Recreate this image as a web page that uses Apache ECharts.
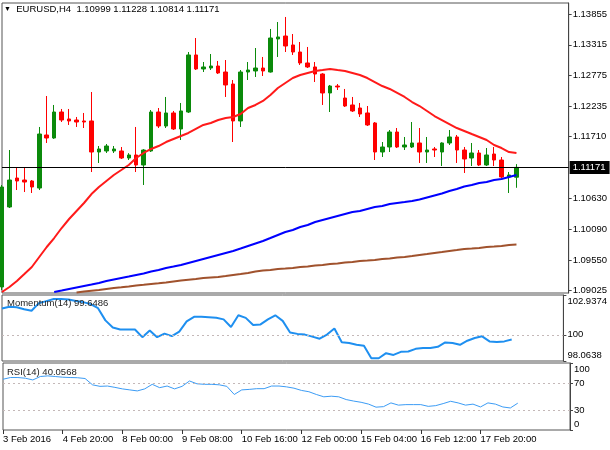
<!DOCTYPE html>
<html>

<head>
    <meta charset="utf-8" />
    <title>EURUSD H4</title>
    <script src="https://cdn.jsdelivr.net/npm/echarts@6.0.0/dist/echarts.min.js"></script>
</head>

<body style="margin: 0; background: #fff">
    <div id="main" style="width: 610px; height: 450px"></div>
    <script type="text/javascript">
        // H4 bars, 3 Feb 12:00 .. 18 Feb 16:00 (broker has a Sunday 20:00 bar)
        var bars = [
            "3 Feb 12:00", "3 Feb 16:00", "3 Feb 20:00", "4 Feb 00:00", "4 Feb 04:00", "4 Feb 08:00",
            "4 Feb 12:00", "4 Feb 16:00", "4 Feb 20:00", "5 Feb 00:00", "5 Feb 04:00", "5 Feb 08:00",
            "5 Feb 12:00", "5 Feb 16:00", "5 Feb 20:00", "7 Feb 20:00", "8 Feb 00:00", "8 Feb 04:00",
            "8 Feb 08:00", "8 Feb 12:00", "8 Feb 16:00", "8 Feb 20:00", "9 Feb 00:00", "9 Feb 04:00",
            "9 Feb 08:00", "9 Feb 12:00", "9 Feb 16:00", "9 Feb 20:00", "10 Feb 00:00", "10 Feb 04:00",
            "10 Feb 08:00", "10 Feb 12:00", "10 Feb 16:00", "10 Feb 20:00", "11 Feb 00:00", "11 Feb 04:00",
            "11 Feb 08:00", "11 Feb 12:00", "11 Feb 16:00", "11 Feb 20:00", "12 Feb 00:00", "12 Feb 04:00",
            "12 Feb 08:00", "12 Feb 12:00", "12 Feb 16:00", "12 Feb 20:00", "14 Feb 20:00", "15 Feb 00:00",
            "15 Feb 04:00", "15 Feb 08:00", "15 Feb 12:00", "15 Feb 16:00", "15 Feb 20:00", "16 Feb 00:00",
            "16 Feb 04:00", "16 Feb 08:00", "16 Feb 12:00", "16 Feb 16:00", "16 Feb 20:00", "17 Feb 00:00",
            "17 Feb 04:00", "17 Feb 08:00", "17 Feb 12:00", "17 Feb 16:00", "17 Feb 20:00", "18 Feb 00:00",
            "18 Feb 04:00", "18 Feb 08:00", "18 Feb 12:00", "18 Feb 16:00"
        ];
        var labelBars = [0, 8, 16, 24, 32, 40, 48, 56, 64];
        var firstLabel = "3 Feb 2016";

        // [open, close, low, high]
        var candles = [
            [1.09078, 1.10828, 1.09025, 1.10863], [1.10478, 1.10950, 1.10460, 1.11475],
            [1.10985, 1.10933, 1.10775, 1.11178], [1.10950, 1.10915, 1.10740, 1.11178],
            [1.10933, 1.10828, 1.10723, 1.10950], [1.10810, 1.11755, 1.10775, 1.11878],
            [1.11738, 1.11685, 1.11598, 1.12420], [1.11685, 1.12140, 1.11670, 1.12263],
            [1.12140, 1.12000, 1.11965, 1.12193], [1.12018, 1.11983, 1.11913, 1.12193],
            [1.12000, 1.11965, 1.11878, 1.12053], [1.11983, 1.11965, 1.11860, 1.12123],
            [1.11983, 1.11440, 1.11090, 1.12490], [1.11440, 1.11493, 1.11248, 1.11545],
            [1.11458, 1.11545, 1.11423, 1.11580], [1.11458, 1.11493, 1.11423, 1.11545],
            [1.11458, 1.11335, 1.11318, 1.11528], [1.11335, 1.11388, 1.11300, 1.11420],
            [1.11388, 1.11213, 1.11090, 1.11878], [1.11213, 1.11475, 1.10863, 1.11490],
            [1.11458, 1.12140, 1.11440, 1.12175], [1.12140, 1.11895, 1.11860, 1.12210],
            [1.11895, 1.12123, 1.11860, 1.12403], [1.12123, 1.11843, 1.11825, 1.12158],
            [1.11843, 1.12158, 1.11650, 1.12298], [1.12140, 1.13138, 1.12123, 1.13190],
            [1.13138, 1.12893, 1.12875, 1.13435], [1.12893, 1.12928, 1.12840, 1.13015],
            [1.12910, 1.12945, 1.12875, 1.13155], [1.12945, 1.12823, 1.12805, 1.13033],
            [1.12840, 1.12613, 1.12403, 1.13050], [1.12630, 1.11983, 1.11615, 1.12700],
            [1.11983, 1.12840, 1.11878, 1.12875], [1.12840, 1.12875, 1.12700, 1.13015],
            [1.12858, 1.12910, 1.12753, 1.13260], [1.12910, 1.12858, 1.12770, 1.13103],
            [1.12840, 1.13435, 1.12830, 1.13593], [1.13418, 1.13453, 1.13103, 1.13715],
            [1.13470, 1.13295, 1.13190, 1.13803], [1.13313, 1.13190, 1.13138, 1.13505],
            [1.13190, 1.12998, 1.12963, 1.13365], [1.12998, 1.12928, 1.12910, 1.13278],
            [1.12928, 1.12805, 1.12665, 1.13015], [1.12805, 1.12473, 1.12263, 1.12820],
            [1.12473, 1.12595, 1.12140, 1.12613], [1.12595, 1.12578, 1.12525, 1.12630],
            [1.12385, 1.12245, 1.12228, 1.12543], [1.12263, 1.12158, 1.12140, 1.12403],
            [1.12210, 1.12105, 1.12053, 1.12298], [1.12123, 1.11913, 1.11895, 1.12245],
            [1.11948, 1.11440, 1.11300, 1.11965], [1.11440, 1.11528, 1.11353, 1.11615],
            [1.11528, 1.11790, 1.11440, 1.11825], [1.11790, 1.11528, 1.11510, 1.11860],
            [1.11528, 1.11563, 1.11475, 1.11703], [1.11528, 1.11598, 1.11510, 1.11965],
            [1.11598, 1.11440, 1.11248, 1.11860], [1.11440, 1.11475, 1.11248, 1.11703],
            [1.11493, 1.11475, 1.11353, 1.11528], [1.11440, 1.11598, 1.11195, 1.11610],
            [1.11598, 1.11703, 1.11563, 1.11825], [1.11703, 1.11475, 1.11248, 1.11738],
            [1.11475, 1.11318, 1.11073, 1.11528], [1.11335, 1.11423, 1.11195, 1.11598],
            [1.11423, 1.11213, 1.11195, 1.11475], [1.11213, 1.11388, 1.11195, 1.11510],
            [1.11405, 1.11300, 1.11195, 1.11528], [1.11300, 1.11003, 1.10985, 1.11353],
            [1.11003, 1.11038, 1.10723, 1.11090], [1.10999, 1.11171, 1.10814, 1.11228]
        ];

        var maRed = [
            1.08990, 1.09078, 1.09183, 1.09305, 1.09428, 1.09603, 1.09778, 1.09935, 1.10110, 1.10268,
            1.10408, 1.10548, 1.10705, 1.10828, 1.10933, 1.11038, 1.11125, 1.11213, 1.11335, 1.11423,
            1.11493, 1.11545, 1.11615, 1.11668, 1.11720, 1.11773, 1.11843, 1.11913, 1.11948, 1.12000,
            1.12035, 1.12053, 1.12105, 1.12210, 1.12263, 1.12333, 1.12438, 1.12560, 1.12648, 1.12735,
            1.12788, 1.12823, 1.12858, 1.12875, 1.12893, 1.12875, 1.12858, 1.12823, 1.12788, 1.12735,
            1.12665, 1.12595, 1.12543, 1.12473, 1.12403, 1.12315, 1.12245, 1.12158, 1.12070, 1.12000,
            1.11930, 1.11860, 1.11808, 1.11755, 1.11703, 1.11650, 1.11563, 1.11510, 1.11440, 1.11423
        ];
        var maBlue = [
            "-", "-", "-", "-", "-", "-", "-", 1.08990, 1.09016, 1.09043,
            1.09069, 1.09095, 1.09121, 1.09148, 1.09183, 1.09209, 1.09235, 1.09261, 1.09288, 1.09314,
            1.09349, 1.09375, 1.09410, 1.09436, 1.09463, 1.09498, 1.09533, 1.09568, 1.09603, 1.09638,
            1.09673, 1.09708, 1.09751, 1.09795, 1.09839, 1.09883, 1.09935, 1.09988, 1.10040, 1.10075,
            1.10128, 1.10163, 1.10215, 1.10250, 1.10285, 1.10320, 1.10355, 1.10390, 1.10408, 1.10443,
            1.10478, 1.10495, 1.10530, 1.10548, 1.10565, 1.10583, 1.10609, 1.10644, 1.10679, 1.10714,
            1.10758, 1.10793, 1.10836, 1.10863, 1.10898, 1.10915, 1.10950, 1.10968, 1.11003, 1.11038
        ];
        var maBrown = [
            "-", "-", "-", "-", "-", "-", "-", "-", "-", "-",
            1.08981, 1.08999, 1.09013, 1.09025, 1.09043, 1.09060, 1.09072, 1.09086, 1.09104, 1.09116,
            1.09130, 1.09142, 1.09156, 1.09174, 1.09191, 1.09205, 1.09218, 1.09235, 1.09244, 1.09253,
            1.09270, 1.09288, 1.09305, 1.09323, 1.09349, 1.09366, 1.09375, 1.09393, 1.09401, 1.09410,
            1.09428, 1.09436, 1.09454, 1.09463, 1.09480, 1.09489, 1.09506, 1.09515, 1.09533, 1.09541,
            1.09550, 1.09568, 1.09576, 1.09594, 1.09603, 1.09620, 1.09638, 1.09655, 1.09673, 1.09690,
            1.09708, 1.09725, 1.09743, 1.09751, 1.09760, 1.09778, 1.09786, 1.09795, 1.09813, 1.09821
        ];

        var momentum = [
            101.940, 102.075, 102.038, 101.888, 101.775, 102.337, 102.487, 102.637, 102.637, 102.600,
            102.487, 102.412, 102.262, 101.963, 101.063, 100.538, 100.388, 100.388, 100.388, 99.826,
            100.313, 99.826, 100.088, 99.901, 100.238, 100.988, 101.325, 101.325, 101.288, 101.250,
            101.138, 100.576, 101.437, 101.250, 100.726, 100.763, 101.138, 101.437, 101.025, 100.163,
            100.066, 100.013, 99.863, 99.713, 100.013, 100.463, 99.451, 99.391, 99.263, 99.188,
            98.266, 98.266, 98.641, 98.514, 98.739, 98.761, 98.963, 99.016, 99.016, 99.113,
            99.436, 99.391, 99.263, 99.563, 99.766, 99.886, 99.511, 99.466, 99.511, 99.6486
        ];
        var rsi = [
            75.76, 78.33, 78.33, 77.27, 74.70, 79.85, 80.76, 79.85, 78.79, 78.33,
            78.03, 76.82, 67.42, 65.15, 65.61, 63.64, 61.36, 59.85, 58.33, 61.36,
            68.18, 63.18, 65.61, 61.36, 65.15, 73.18, 68.94, 68.18, 68.18, 67.42,
            65.15, 53.03, 59.85, 60.61, 61.67, 61.67, 65.61, 65.61, 64.39, 62.42,
            59.09, 57.12, 53.03, 49.55, 50.45, 49.55, 45.45, 43.18, 41.36, 38.64,
            34.09, 34.85, 40.45, 37.12, 37.88, 37.88, 37.88, 35.30, 36.36, 39.39,
            42.88, 40.45, 37.12, 38.64, 34.39, 40.45, 38.64, 34.39, 32.88, 40.0568
        ];

        var priceTicks = [1.09025, 1.09550, 1.10090, 1.10630, 1.11710, 1.12235, 1.12775, 1.13315, 1.13855];
        var momTicks = [98.0638, 100, 102.9374];
        var rsiTicks = [0, 30, 70, 100];
        var rsiLevels = [30, 70];
        var lastPrice = 1.11171;

        var font = "Liberation Sans";
        var fs = 9.5;
        var slots = 75.6; // empty room right of the last bar

        var myChart = echarts.init(document.getElementById("main"));

        function xAxisFor(idx, show) {
            return {
                type: "category",
                gridIndex: idx,
                data: bars,
                boundaryGap: false,
                max: slots,
                axisLine: { show: false },
                splitLine: { show: false },
                axisTick: {
                    show: show,
                    length: 4,
                    interval: function (i) { return labelBars.indexOf(i) != -1; },
                    lineStyle: { color: "#333" },
                },
                axisLabel: {
                    show: show,
                    interval: function (i) { return labelBars.indexOf(i) != -1; },
                    align: "left",
                    margin: 4,
                    color: "#000",
                    fontFamily: font,
                    fontSize: fs,
                    formatter: function (val, i) {
                        return i == 0 ? firstLabel : val;
                    },
                },
            };
        }

        // edge labels sit inside their panel, like the terminal draws them
        function edgeRich() {
            return {
                hi: { padding: [12, 0, 0, 0], fontFamily: font, fontSize: fs, color: "#000" },
                lo: { padding: [0, 0, 11, 0], fontFamily: font, fontSize: fs, color: "#000" },
            };
        }

        function yAxisFor(idx, min, max, ticks, fmt) {
            return {
                type: "value",
                gridIndex: idx,
                position: "right",
                min: min,
                max: max,
                scale: true,
                splitLine: { show: false },
                axisLine: { show: true, lineStyle: { color: "#444" } },
                axisTick: { show: true, length: 3, customValues: ticks, lineStyle: { color: "#444" } },
                axisLabel: {
                    customValues: ticks,
                    margin: 4,
                    color: "#000",
                    fontFamily: font,
                    fontSize: fs,
                    formatter: fmt,
                    rich: edgeRich(),
                },
            };
        }

        function levelLine(values) {
            return {
                silent: true,
                symbol: "none",
                label: { show: false },
                lineStyle: { color: "#c4b8b8", type: [2, 3], width: 1 },
                data: values.map(function (v) { return { yAxis: v }; }),
            };
        }

        var gridBorder = { show: true, borderColor: "#555", borderWidth: 1, backgroundColor: "#fff" };

        var option = {
            animation: false,
            backgroundColor: "#fff",
            textStyle: { fontFamily: font },
            title: [
                {
                    text: "{t|▼}  EURUSD,H4  1.10999 1.11228 1.10814 1.11171",
                    left: 4,
                    top: 4,
                    padding: 0,
                    textStyle: {
                        fontFamily: font, fontSize: fs, fontWeight: "normal", color: "#000",
                        rich: { t: { fontSize: 7, color: "#000" } },
                    },
                },
                {
                    text: "Momentum(14) 99.6486",
                    left: 7,
                    top: 298,
                    padding: 0,
                    textStyle: { fontFamily: font, fontSize: fs, fontWeight: "normal", color: "#222" },
                },
                {
                    text: "RSI(14) 40.0568",
                    left: 7,
                    top: 367,
                    padding: 0,
                    textStyle: { fontFamily: font, fontSize: fs, fontWeight: "normal", color: "#222" },
                },
            ],
            grid: [
                Object.assign({ left: 2, width: 568, top: 3, height: 290 }, gridBorder),
                Object.assign({ left: 2, width: 568, top: 295, height: 66 }, gridBorder),
                Object.assign({ left: 2, width: 568, top: 363, height: 67 }, gridBorder),
            ],
            xAxis: [xAxisFor(0, false), xAxisFor(1, false), xAxisFor(2, true)],
            yAxis: [
                yAxisFor(0, 1.08973, 1.140475, priceTicks, function (v) { return v.toFixed(5); }),
                yAxisFor(1, momTicks[0], momTicks[2], momTicks, function (v) {
                    if (v == momTicks[2]) return "{hi|" + v + "}";
                    if (v == momTicks[0]) return "{lo|" + v + "}";
                    return String(v);
                }),
                yAxisFor(2, 0, 100, rsiTicks, function (v) {
                    if (v == 100) return "{hi|" + v + "}";
                    if (v == 0) return "{lo|" + v + "}";
                    return String(v);
                }),
            ],
            series: [
                {
                    name: "EURUSD",
                    type: "candlestick",
                    xAxisIndex: 0,
                    yAxisIndex: 0,
                    data: candles,
                    barWidth: 4,
                    clip: true,
                    itemStyle: {
                        color: "#0b8a0b",
                        color0: "#ff0000",
                        borderColor: "#0b8a0b",
                        borderColor0: "#ff0000",
                        borderWidth: 1,
                    },
                },
                {
                    name: "MA brown",
                    type: "line",
                    data: maBrown,
                    showSymbol: false,
                    clip: true,
                    lineStyle: { color: "#a0522d", width: 2 },
                },
                {
                    name: "MA blue",
                    type: "line",
                    data: maBlue,
                    showSymbol: false,
                    clip: true,
                    lineStyle: { color: "#0000ff", width: 2 },
                },
                {
                    name: "MA red",
                    type: "line",
                    data: maRed,
                    showSymbol: false,
                    clip: true,
                    lineStyle: { color: "#ff1a1a", width: 2 },
                    // current bid line with its price box on the scale
                    markLine: {
                        silent: true,
                        symbol: "none",
                        precision: 5,
                        lineStyle: { color: "#000", type: "solid", width: 1 },
                        label: {
                            position: "end",
                            distance: 1,
                            formatter: lastPrice.toFixed(5),
                            backgroundColor: "#000",
                            color: "#fff",
                            fontFamily: font,
                            fontSize: fs,
                            padding: [2, 4, 1, 3],
                        },
                        data: [{ yAxis: lastPrice }],
                    },
                },
                {
                    name: "Momentum",
                    type: "line",
                    xAxisIndex: 1,
                    yAxisIndex: 1,
                    data: momentum,
                    showSymbol: false,
                    lineStyle: { color: "#1e8ff0", width: 2 },
                    markLine: levelLine([100]),
                },
                {
                    name: "RSI",
                    type: "line",
                    xAxisIndex: 2,
                    yAxisIndex: 2,
                    data: rsi,
                    showSymbol: false,
                    lineStyle: { color: "#3c9cf5", width: 1 },
                    markLine: levelLine(rsiLevels),
                },
            ],
        };
        myChart.setOption(option);
    </script>
</body>

</html>
